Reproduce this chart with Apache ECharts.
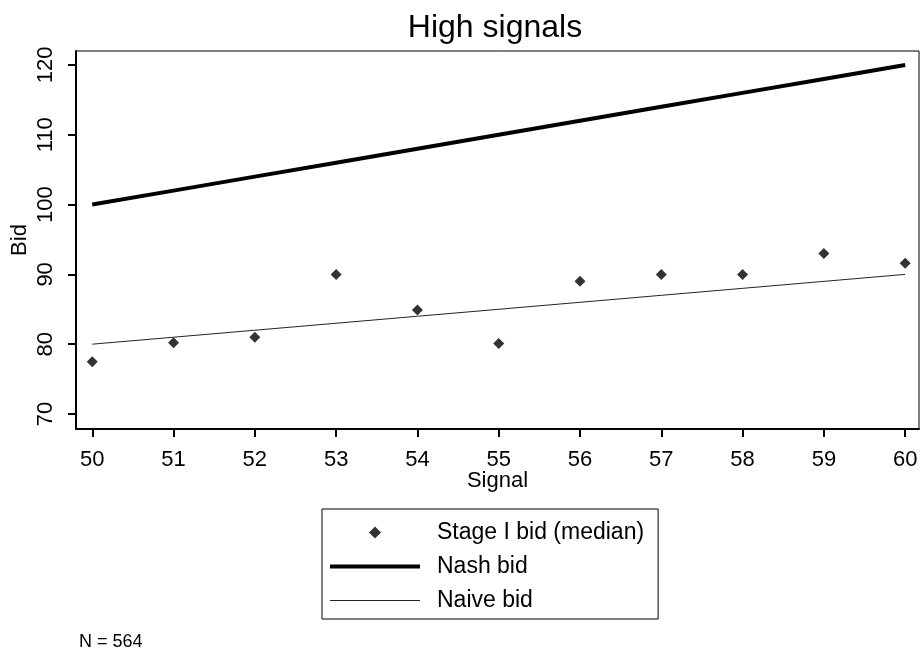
<!DOCTYPE html>
<html>
<head>
<meta charset="utf-8">
<script src="https://cdn.jsdelivr.net/npm/echarts@6/dist/echarts.min.js"></script>
<style>
  html, body { margin: 0; padding: 0; background: #fff; }
  #main { width: 921px; height: 653px; }
</style>
</head>
<body>
<div id="main"></div>
<script>
// data
var signals = [50, 51, 52, 53, 54, 55, 56, 57, 58, 59, 60];
var stageBid = [77.5, 80.2, 81.0, 90.0, 84.9, 80.1, 89.0, 90.0, 90.0, 93.0, 91.6];
var nashBid = [100, 102, 104, 106, 108, 110, 112, 114, 116, 118, 120];
var naiveBid = [80, 81, 82, 83, 84, 85, 86, 87, 88, 89, 90];
var xTicks = [50, 51, 52, 53, 54, 55, 56, 57, 58, 59, 60];
var yTicks = [70, 80, 90, 100, 110, 120];

function pairs(ys) {
  return signals.map(function (x, i) { return [x, ys[i]]; });
}

var font = "'Liberation Sans', Arial, sans-serif";
var chart = echarts.init(document.getElementById("main"));
chart.setOption({
  animation: false,
  textStyle: { fontFamily: font, color: "#000" },
  title: [
    {
      text: "High signals",
      left: 495,
      textAlign: "center",
      top: 12,
      padding: 0,
      textStyle: { fontSize: 32, fontWeight: "normal", color: "#000", fontFamily: font }
    },
    {
      text: "N = 564",
      left: 79,
      top: 633,
      padding: 0,
      textStyle: { fontSize: 18, fontWeight: "normal", color: "#000", fontFamily: font }
    }
  ],
  grid: {
    left: 76,
    right: 2,
    top: 51,
    bottom: 224,
    containLabel: false,
    outerBoundsMode: "none",
    show: true,
    borderColor: "#000",
    borderWidth: 1
  },
  legend: {
    orient: "vertical",
    left: 322,
    top: 509,
    padding: [12, 14, 7, 8],
    borderColor: "#000",
    borderWidth: 1,
    itemWidth: 90,
    itemHeight: 12,
    itemGap: 11,
    textStyle: { fontSize: 23, lineHeight: 23, color: "#000", fontFamily: font, padding: [0, 0, 0, 12] },
    data: [
      { name: "Stage I bid (median)", icon: "path://M5,0L10,5L5,10L0,5Z", itemStyle: { color: "#000" } },
      { name: "Nash bid", icon: "path://M0,0H90V4H0Z", itemStyle: { color: "#000" } },
      { name: "Naive bid", icon: "path://M0,0H90V1H0Z", itemStyle: { color: "#222" } }
    ]
  },
  xAxis: {
    type: "value",
    min: 49.8,
    max: 60.17,
    name: "Signal",
    nameLocation: "middle",
    nameGap: 41,
    nameMoveOverlap: false,
    nameTextStyle: { fontSize: 22, color: "#000" },
    axisLine: { lineStyle: { color: "#000", width: 2 } },
    axisTick: { show: true, length: 8, lineStyle: { color: "#000", width: 2 }, customValues: xTicks },
    axisLabel: { fontSize: 22, color: "#000", margin: 20, customValues: xTicks },
    splitLine: { show: false }
  },
  yAxis: {
    type: "value",
    min: 67.85,
    max: 122,
    name: "Bid",
    nameLocation: "middle",
    nameGap: 45,
    nameRotate: 90,
    nameMoveOverlap: false,
    nameTextStyle: { fontSize: 22, color: "#000" },
    axisLine: { show: true, lineStyle: { color: "#000", width: 2 } },
    axisTick: { show: true, length: 8, lineStyle: { color: "#000", width: 2 }, customValues: yTicks },
    axisLabel: { fontSize: 22, color: "#000", rotate: 90, margin: 19, customValues: yTicks },
    splitLine: { show: false }
  },
  series: [
    {
      name: "Stage I bid (median)",
      type: "scatter",
      symbol: "diamond",
      symbolSize: 11,
      itemStyle: { color: "#000" },
      data: pairs(stageBid),
      z: 3
    },
    {
      name: "Nash bid",
      type: "line",
      symbol: "none",
      lineStyle: { color: "#000", width: 4 },
      itemStyle: { color: "#000" },
      data: pairs(nashBid)
    },
    {
      name: "Naive bid",
      type: "line",
      symbol: "none",
      lineStyle: { color: "#222", width: 1 },
      itemStyle: { color: "#222" },
      data: pairs(naiveBid)
    }
  ]
});
</script>
</body>
</html>
